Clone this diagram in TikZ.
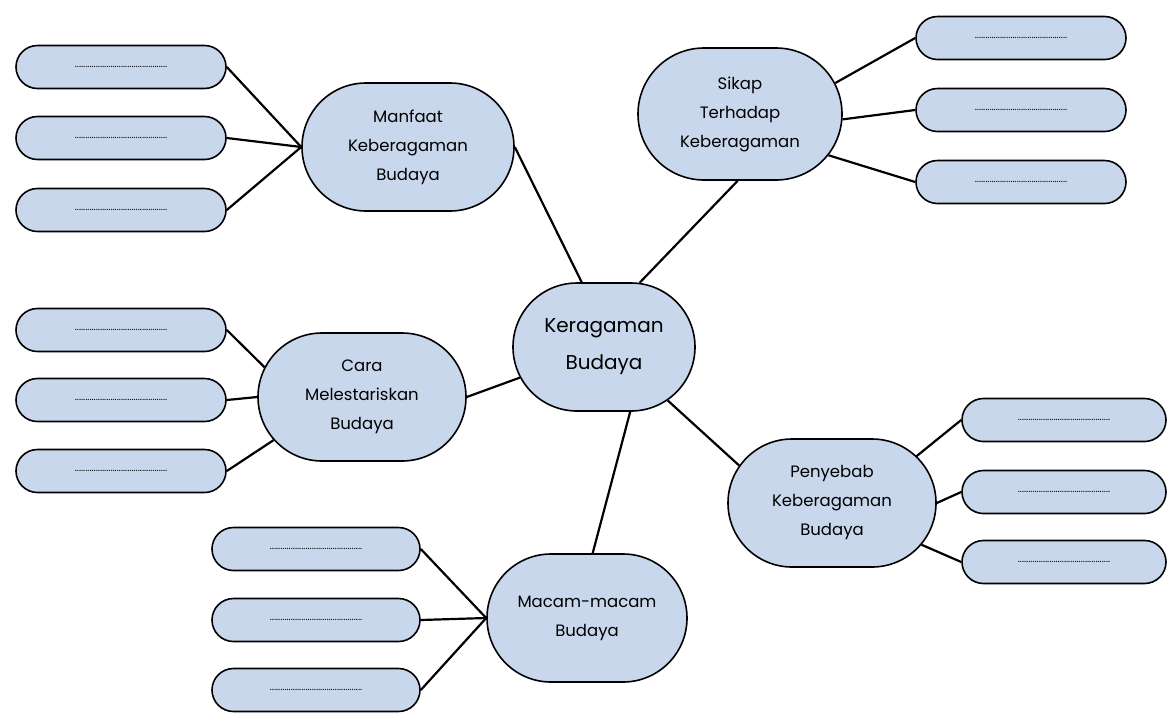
\documentclass[tikz,border=0pt]{standalone}
\usepackage{fontspec}
\setmainfont{Poppins}
\usepackage{xcolor}
\usepackage{tikz}
\usetikzlibrary{shapes.misc, arrows}

\definecolor{bubble}{RGB}{201,215,237}
\newcommand{\blank}{............................................}

\begin{document}
\begin{tikzpicture}[x=1pt,y=-1pt]

\tikzstyle{core} = [rounded rectangle, minimum width=182pt, minimum height=128pt, inner sep=0pt, align=center, draw=black, line width=1.6pt, fill=bubble, font=\fontsize{20}{37}\selectfont]
\tikzstyle{hub} = [rounded rectangle, minimum width=208pt, minimum height=128pt, inner sep=0pt, align=center, draw=black, line width=1.6pt, fill=bubble, font=\fontsize{16.5}{29}\selectfont]
\tikzstyle{leaf} = [rounded rectangle, minimum width=210pt, minimum height=43pt, inner sep=0pt, draw=black, line width=1.6pt, fill=bubble, font=\fontsize{10}{10}\selectfont]
\tikzstyle{link} = [line width=2.2pt]

\useasboundingbox (0,0) rectangle (1168,721);

\node (central) [core] at (604,347) {Keragaman\\Budaya};

\node (manfaat) [hub, minimum width=212pt] at (408,147) {Manfaat\\Keberagaman\\Budaya};
\node (sikap) [hub, minimum width=204pt, minimum height=132pt] at (740,114) {Sikap\\Terhadap\\Keberagaman};
\node (cara) [hub] at (362,397) {Cara\\Melestariskan\\Budaya};
\node (penyebab) [hub] at (832,503) {Penyebab\\Keberagaman\\Budaya};
\node (macam) [hub, minimum width=200pt] at (587,618) {Macam-macam\\Budaya};

% leaves of each hub
\node (manfaat1) [leaf] at (121,67) {\blank};
\node (manfaat2) [leaf] at (121,138) {\blank};
\node (manfaat3) [leaf] at (121,210) {\blank};

\node (sikap1) [leaf] at (1021,38) {\blank};
\node (sikap2) [leaf] at (1021,110) {\blank};
\node (sikap3) [leaf] at (1021,182) {\blank};

\node (cara1) [leaf] at (121,330) {\blank};
\node (cara2) [leaf] at (121,400) {\blank};
\node (cara3) [leaf] at (121,471) {\blank};

\node (penyebab1) [leaf, minimum width=204pt] at (1064,420) {\blank};
\node (penyebab2) [leaf, minimum width=204pt] at (1064,492) {\blank};
\node (penyebab3) [leaf, minimum width=204pt] at (1064,562) {\blank};

\node (macam1) [leaf, minimum width=208pt] at (316,549) {\blank};
\node (macam2) [leaf, minimum width=208pt] at (316,620) {\blank};
\node (macam3) [leaf, minimum width=208pt] at (316,690) {\blank};

\draw [link] (central.109) -- (manfaat.east);
\draw [link] (central.61) -- (sikap.-92);
\draw [link] (central.200) -- (cara.east);
\draw [link] (central.-40) -- (penyebab.158);
\draw [link] (central.-68) -- (macam.85);

\draw [link] (manfaat1.east) -- (manfaat.west);
\draw [link] (manfaat2.east) -- (manfaat.west);
\draw [link] (manfaat3.east) -- (manfaat.west);

\draw [link] (sikap.18) -- (sikap1.west);
\draw [link] (sikap.-3) -- (sikap2.west);
\draw [link] (sikap.-25) -- (sikap3.west);

\draw [link] (cara1.east) -- (cara.163);
\draw [link] (cara2.east) -- (cara.west);
\draw [link] (cara3.east) -- (cara.206);

\draw [link] (penyebab.29) -- (penyebab1.west);
\draw [link] (penyebab.east) -- (penyebab2.west);
\draw [link] (penyebab.-25) -- (penyebab3.west);

\draw [link] (macam1.east) -- (macam.west);
\draw [link] (macam2.east) -- (macam.west);
\draw [link] (macam3.east) -- (macam.west);

\end{tikzpicture}
\end{document}
